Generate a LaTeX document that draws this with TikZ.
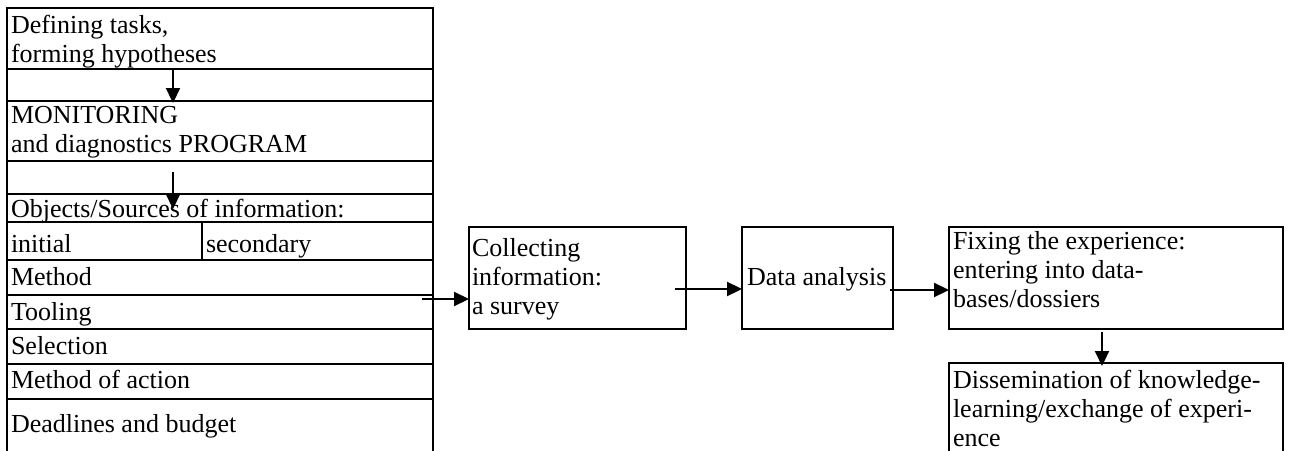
\documentclass[tikz,border=0pt]{standalone}
\usepackage{fontspec}
\setmainfont{Liberation Serif}
\usetikzlibrary{arrows.meta}
\begin{document}
\begin{tikzpicture}[x=1pt,y=-1pt,
  box/.style={draw,line width=2pt,anchor=north west,inner sep=0pt,outer sep=0pt},
  txt/.style={anchor=base west,inner sep=0pt,outer sep=0pt,font=\fontsize{26}{29}\selectfont},
  arr/.style={line width=2.2pt,-{Triangle[length=15pt,width=14pt]}}]
\useasboundingbox (0,0) rectangle (1293,450);
\clip (0,0) rectangle (1293,450);
\fill[white] (0,0) rectangle (1293,450);
% left column
\node[box,minimum width=426pt,minimum height=462pt] (frame) at (7,8) {};
\node[box,minimum width=426pt,minimum height=61pt] (b1) at (7,8) {};
\node[box,minimum width=426pt,minimum height=60pt] (b2) at (7,101) {};
\node[box,minimum width=426pt,minimum height=28pt] (obj) at (7,194) {};
\node[box,minimum width=195pt,minimum height=38pt] (ini) at (7,222) {};
\node[box,minimum width=231pt,minimum height=38pt] (sec) at (202,222) {};
\node[box,minimum width=426pt,minimum height=35pt] (meth) at (7,260) {};
\node[box,minimum width=426pt,minimum height=34pt] (tool) at (7,295) {};
\node[box,minimum width=426pt,minimum height=35pt] (sel) at (7,329) {};
\node[box,minimum width=426pt,minimum height=35pt] (act) at (7,364) {};
\node[box,minimum width=426pt,minimum height=71pt] (dead) at (7,399) {};
% right boxes
\node[box,minimum width=217pt,minimum height=102pt] (coll) at (469,227) {};
\node[box,minimum width=151pt,minimum height=102pt] (data) at (742,227) {};
\node[box,minimum width=334pt,minimum height=102pt] (fix) at (949,227) {};
\node[box,minimum width=334pt,minimum height=107pt] (diss) at (949,363) {};
% texts
\node[txt] (t1a) at (11,33) {Defining tasks,};
\node[txt] (t1b) at (11,62) {forming hypotheses};
\node[txt] (t2a) at (11,123) {MONITORING};
\node[txt] (t2b) at (11,152) {and diagnostics PROGRAM};
\node[txt] (t3) at (11,217) {Objects/Sources of information:};
\node[txt] (t4a) at (11,252) {initial};
\node[txt] (t4b) at (206,252) {secondary};
\node[txt] (t5) at (11,285) {Method};
\node[txt] (t6) at (11,320) {Tooling};
\node[txt] (t7) at (11,354) {Selection};
\node[txt] (t8) at (11,388) {Method of action};
\node[txt] (t9) at (11,432) {Deadlines and budget};
\node[txt] (c1) at (472,256) {Collecting};
\node[txt] (c2) at (472,285) {information:};
\node[txt] (c3) at (472,314) {a survey};
\node[txt] (d1) at (747,285) {Data analysis};
\node[txt] (f1) at (953,249) {Fixing the experience:};
\node[txt] (f2) at (953,278) {entering into data-};
\node[txt] (f3) at (953,307) {bases/dossiers};
\node[txt] (s1) at (953,388) {Dissemination of knowledge-};
\node[txt] (s2) at (953,417) {learning/exchange of experi-};
\node[txt] (s3) at (953,446) {ence};
% arrow anchors
\coordinate (ax) at (173,0);
\coordinate (a2s) at (173,172);
\coordinate (a2e) at (173,209);
\coordinate (a3s) at (422,299);
\coordinate (a4s) at (675,289);
\coordinate (a5s) at (890,290);
\coordinate (a6x) at (1102,0);
% connectors
\draw[arr] (b1.south -| ax) -- ([yshift=-2pt]b2.north -| ax);
\draw[arr] (a2s) -- (a2e);
\draw[arr] (a3s) -- (a3s -| coll.west);
\draw[arr] (a4s) -- (a4s -| data.west);
\draw[arr] (a5s) -- (a5s -| fix.west);
\draw[arr] ([yshift=-3pt]fix.south -| a6x) -- ([yshift=-3pt]diss.north -| a6x);
\end{tikzpicture}
\end{document}
